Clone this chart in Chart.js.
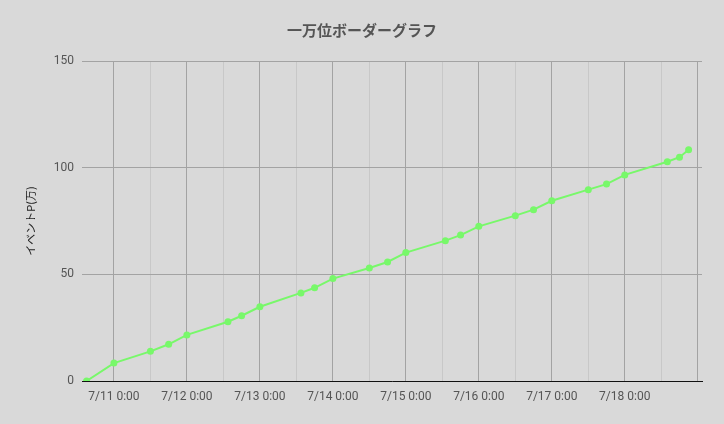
<!DOCTYPE html>
<html>
<head>
<meta charset="utf-8">
<script src="https://cdn.jsdelivr.net/npm/chart.js@4"></script>
<style>
  body { margin: 0; background: #d9d9d9; }
  canvas { display: block; }
</style>
</head>
<body>
<canvas id="chart" width="724" height="424"></canvas>
<script>
// data
const timeLabels = [
  '7/10 15:00', '7/11 0:00', '7/11 12:00', '7/11 18:00',
  '7/12 0:00', '7/12 13:30', '7/12 18:00',
  '7/13 0:00', '7/13 13:30', '7/13 18:00',
  '7/14 0:00', '7/14 12:00', '7/14 18:00',
  '7/15 0:00', '7/15 13:00', '7/15 18:00',
  '7/16 0:00', '7/16 12:00', '7/16 18:00',
  '7/17 0:00', '7/17 12:00', '7/17 18:00',
  '7/18 0:00', '7/18 14:00', '7/18 18:00', '7/18 21:00'
];
const eventPoints = [
  0, 8.4, 13.9, 17.2,
  21.6, 27.8, 30.6,
  34.8, 41.3, 43.7,
  48.0, 53.0, 55.8,
  60.2, 65.8, 68.4,
  72.5, 77.5, 80.3,
  84.5, 89.7, 92.3,
  96.6, 102.8, 104.9, 108.4
];
const yTicks = [0, 50, 100, 150];

// hours counted from 7/11 0:00
function toHours(label) {
  const [date, time] = label.split(' ');
  const day = Number(date.split('/')[1]);
  const [h, m] = time.split(':').map(Number);
  return (day - 11) * 24 + h + m / 60;
}
function hoursToLabel(v) {
  const day = 11 + Math.floor(v / 24);
  const h = ((v % 24) + 24) % 24;
  return '7/' + day + ' ' + h + ':00';
}

const points = timeLabels.map((t, i) => ({x: toHours(t), y: eventPoints[i]}));

new Chart(document.getElementById('chart'), {
  type: 'line',
  data: {
    datasets: [{
      data: points,
      borderColor: '#78f86a',
      backgroundColor: '#78f86a',
      borderWidth: 2,
      pointRadius: 3.5,
      pointBorderWidth: 0,
      fill: false,
      tension: 0
    }]
  },
  options: {
    responsive: false,
    animation: false,
    layout: {padding: 0},
    plugins: {
      legend: {display: false},
      tooltip: {enabled: false},
      title: {
        display: true,
        text: '一万位ボーダーグラフ',
        color: '#555',
        font: {family: '"Noto Sans CJK JP", sans-serif', size: 15, weight: 'bold'},
        padding: {top: 21, bottom: 22}
      }
    },
    scales: {
      x: {
        type: 'linear',
        min: -10.5,
        max: 193.4,
        afterBuildTicks: s => {
          s.ticks = [];
          for (let v = 0; v <= 192; v += 12) s.ticks.push({value: v});
        },
        afterFit: s => { s.height = 43; },
        ticks: {
          autoSkip: false,
          maxRotation: 0,
          padding: 9,
          color: '#555',
          font: {family: 'Roboto', size: 12},
          callback: v => (v % 24 === 0 && v < 192) ? hoursToLabel(v) : ''
        },
        grid: {
          drawTicks: false,
          color: c => (c.tick && c.tick.value % 24 === 0) ? '#a3a3a3' : '#c8c8c8'
        },
        border: {display: true, color: '#111', width: 1}
      },
      y: {
        min: 0,
        max: 150,
        afterBuildTicks: s => { s.ticks = yTicks.map(v => ({value: v})); },
        afterFit: s => { s.width = 82; },
        ticks: {
          padding: 8,
          color: '#555',
          font: {family: 'Roboto', size: 12}
        },
        grid: {drawTicks: false, color: '#a3a3a3'},
        border: {display: false},
        title: {
          display: true,
          text: 'イベントP(万)',
          color: '#222',
          font: {family: '"Noto Sans CJK JP", sans-serif', size: 11},
          padding: {top: 24}
        }
      },
      // empty right margin so the title centres on the whole page
      yRight: {
        position: 'right',
        min: 0,
        max: 150,
        afterFit: s => { s.width = 22; },
        ticks: {display: false},
        grid: {display: false},
        border: {display: false}
      }
    }
  }
});
</script>
</body>
</html>
